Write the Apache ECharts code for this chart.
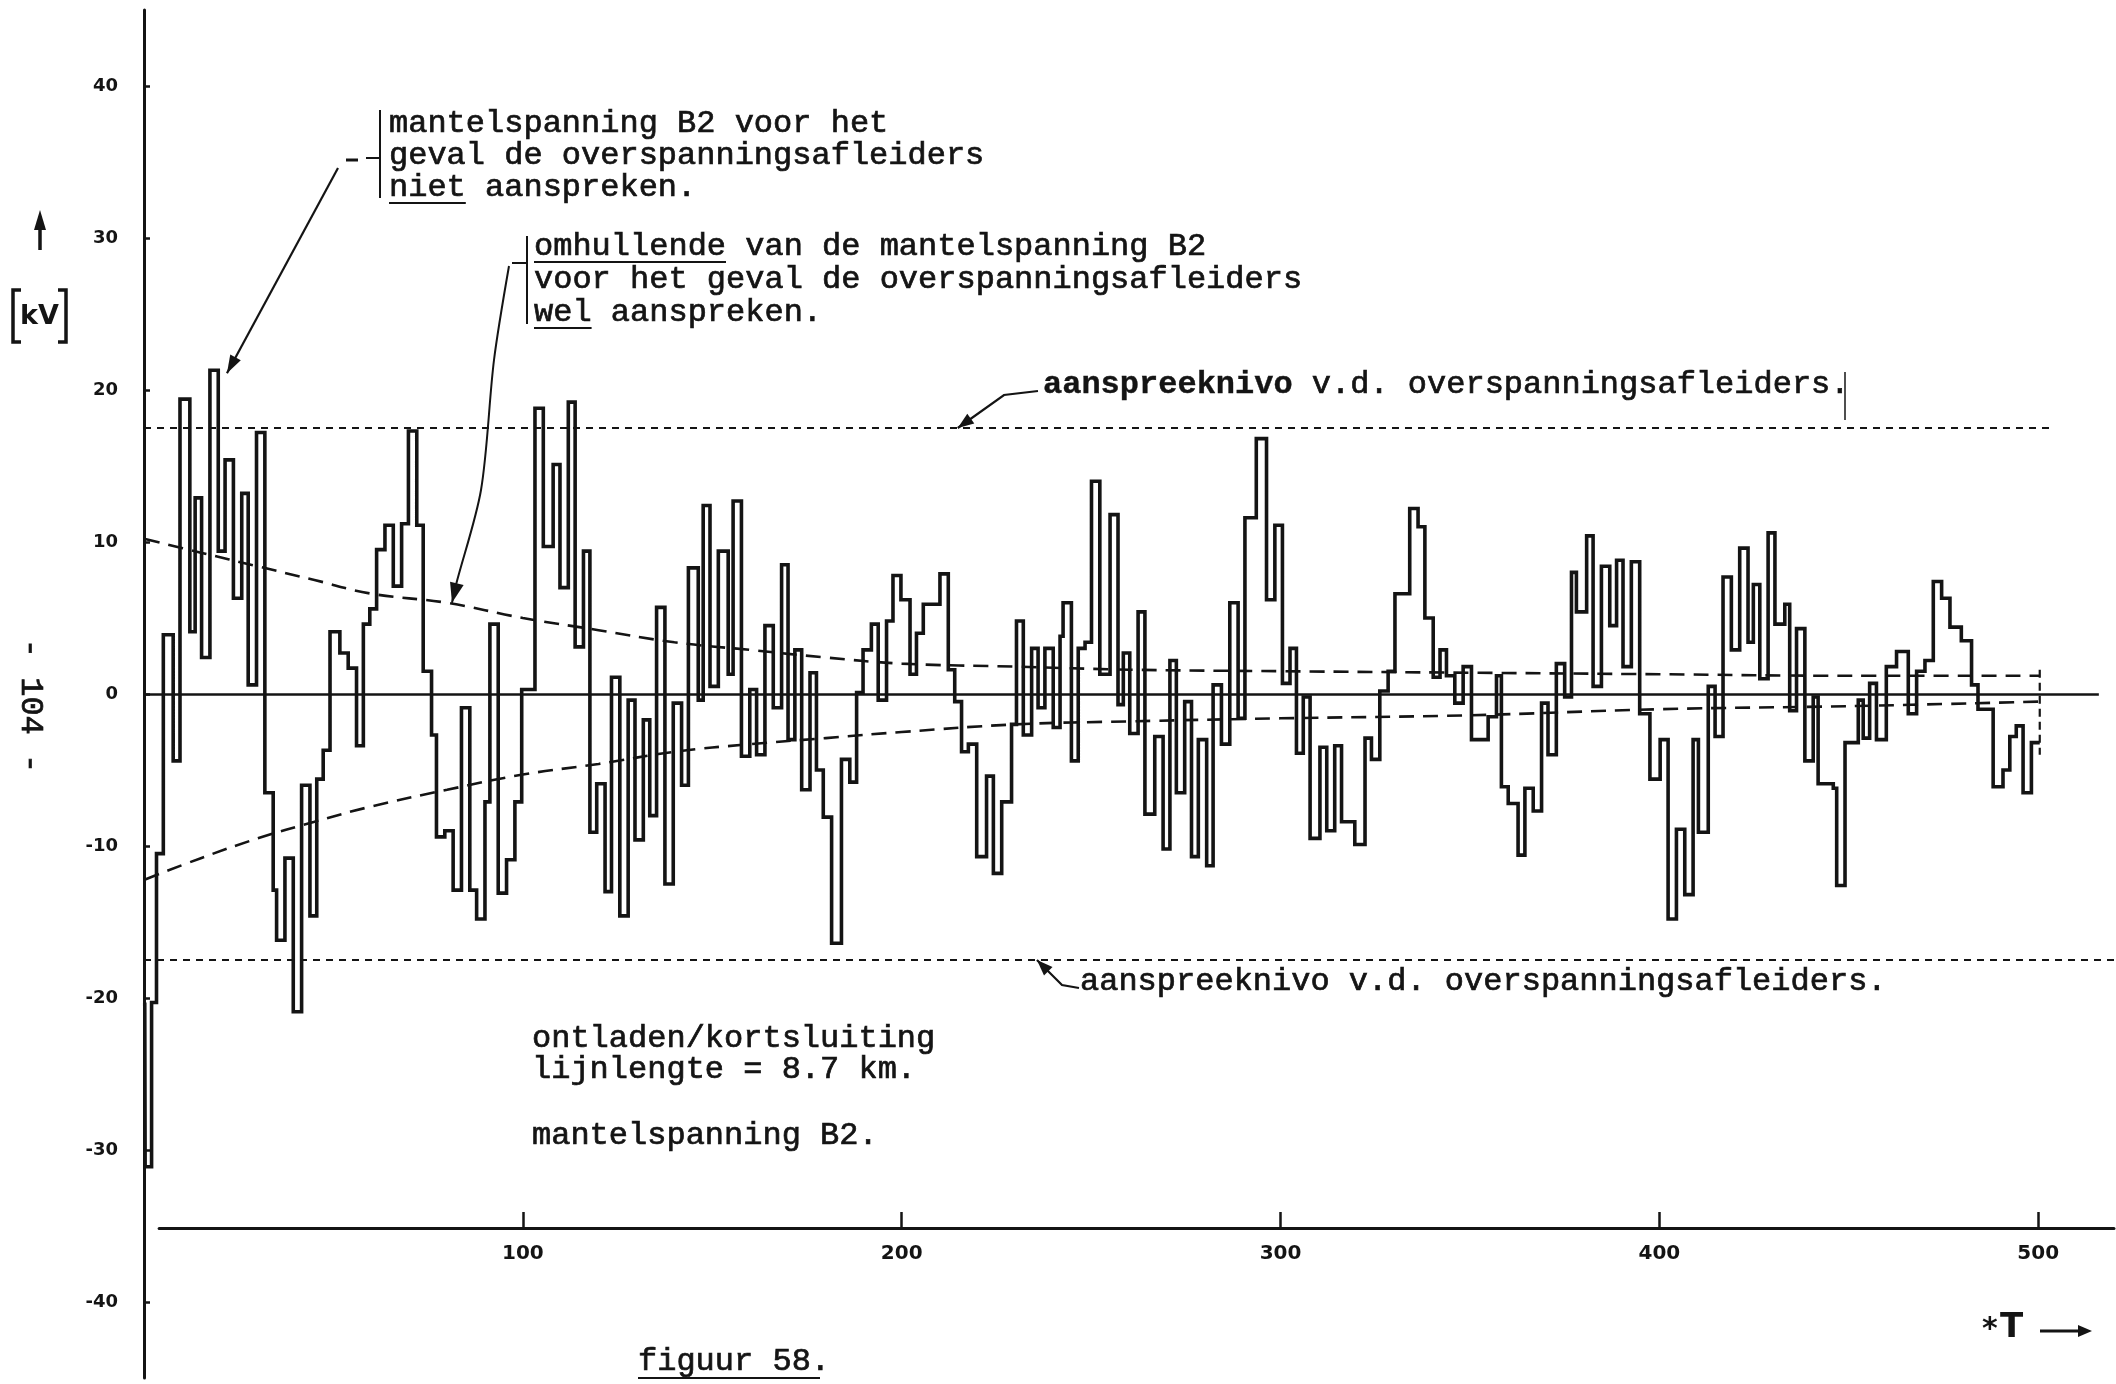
<!DOCTYPE html>
<html>
<head>
<meta charset="utf-8">
<script src="https://cdn.jsdelivr.net/npm/echarts@6/dist/echarts.min.js"></script>
<style>
  html, body { margin: 0; padding: 0; background: #ffffff; }
  #chart { width: 2116px; height: 1384px; }
</style>
</head>
<body>
<div id="chart"></div>
<script>
// Mantelspanning B2 na ontladen/kortsluiting, lijnlengte 8.7 km.
// Step waveform: value stepKV[i] holds from stepT[i] until stepT[i+1] (time in units of T).
const stepT = [
  0.2, 0.3, 2.0, 3.3, 5.1, 7.7, 9.5, 12.1, 13.5, 15.2, 17.4, 19.6, 21.4, 23.6, 25.8, 27.5, 29.7,
  31.9, 34.1, 35.0, 37.2, 39.4, 41.6, 43.8, 45.6, 47.3, 49.1, 51.7, 53.9, 56.1, 57.9, 59.6,
  61.4, 63.6, 65.8, 68.0, 69.8, 72.0, 73.7, 75.9, 77.2, 79.4, 81.6, 83.8, 86.0, 87.8, 90.0,
  91.3, 93.5, 95.7, 97.9, 99.7, 103.2, 105.4, 108.0, 109.8, 112.0, 113.8, 116.0, 117.7, 119.5,
  121.7, 123.4, 125.6, 127.8, 129.6, 131.8, 133.5, 135.3, 137.5, 139.7, 141.9, 143.7, 146.3,
  147.6, 149.4, 151.6, 154.2, 155.5, 157.7, 159.9, 161.7, 163.9, 166.1, 168.3, 170.0, 171.8,
  173.6, 175.8, 177.5, 179.3, 181.5, 184.1, 186.3, 188.1, 189.8, 192.0, 193.8, 196.0, 197.7,
  199.8, 202.2, 203.9, 205.7, 210.1, 212.3, 214.0, 215.8, 217.6, 219.8, 222.4, 224.2, 226.4,
  229.0, 230.3, 232.1, 234.3, 236.0, 237.8, 240.0, 241.8, 242.6, 244.8, 246.6, 248.4, 250.1,
  252.3, 255.0, 257.1, 258.5, 260.2, 262.4, 264.2, 266.8, 269.0, 270.8, 272.5, 274.7, 276.5,
  278.3, 280.5, 282.2, 284.4, 286.6, 288.8, 290.6, 293.6, 296.3, 298.5, 300.5, 302.5, 304.2,
  306.0, 307.8, 310.4, 312.2, 314.3, 316.1, 319.6, 322.3, 324.0, 326.2, 328.4, 330.2, 334.1,
  336.3, 338.1, 340.3, 342.1, 343.8, 346.0, 348.2, 350.4, 354.8, 357.0, 358.3, 360.1, 362.7,
  364.5, 366.7, 368.9, 370.6, 372.8, 375.0, 376.8, 378.1, 380.8, 382.5, 384.7, 386.9, 388.7,
  390.4, 392.6, 394.8, 397.5, 400.2, 402.3, 404.5, 406.7, 408.9, 410.3, 412.9, 414.7, 416.8,
  419.0, 421.2, 423.4, 424.8, 426.5, 428.7, 430.5, 433.1, 434.4, 436.2, 438.4, 440.6, 441.9,
  445.9, 446.8, 449.0, 452.5, 453.8, 455.5, 457.3, 459.9, 462.6, 465.7, 467.9, 470.1, 472.3,
  474.5, 476.7, 479.7, 482.4, 484.1, 488.1, 490.7, 492.5, 494.2, 496.0, 498.2, 500.4
];
const stepKV = [
  -20.3, -31.1, -20.3, -10.5, 3.9, -4.4, 19.4, 4.1, 12.9, 2.4, 21.3, 9.4, 15.4, 6.3, 13.2, 0.6, 17.2,
  -6.5, -12.9, -16.2, -10.8, -20.9, -6.0, -14.6, -5.6, -3.7, 4.1, 2.7, 1.7, -3.4, 4.6, 5.6,
  9.5, 11.1, 7.1, 11.2, 17.3, 11.1, 1.5, -2.7, -9.4, -9.0, -12.9, -0.9, -12.9, -14.8, -7.1,
  4.6, -13.1, -10.9, -7.1, 0.3, 18.8, 9.7, 15.1, 7.0, 19.2, 3.1, 9.4, -9.1, -5.9,
  -13.0, 1.1, -14.6, -0.4, -9.6, -1.7, -8.0, 5.7, -12.5, -0.6, -6.0, 8.3, -0.4,
  12.4, 0.5, 9.4, 1.3, 12.7, -4.1, 0.3, -4.0, 4.5, -0.9, 8.5, -3.0, 2.9,
  -6.3, 1.4, -5.0, -8.1, -16.4, -4.3, -5.8, 0.1, 2.9, 4.6, -0.4, 4.8, 7.8,
  6.2, 1.3, 4.0, 5.9, 7.9, 1.6, -0.5, -3.8, -3.3, -10.7, -5.4, -11.8, -7.1,
  -2.0, 4.8, -2.7, 3.0, -0.9, 3.0, -2.2, 3.8, 6.0, -4.4, 3.0, 3.4, 14.0,
  1.3, 11.8, -0.7, 2.7, -2.6, 5.4, -7.9, -2.8, -10.2, 2.2, -6.5, -0.5, -10.7,
  -3.0, -11.3, 0.6, -3.3, 6.0, -1.6, 11.6, 16.8, 6.2, 11.1, 0.7, 3.0, -3.9,
  -0.2, -9.5, -3.5, -9.0, -3.4, -8.4, -9.9, -2.9, -4.3, 0.2, 1.5, 6.6, 12.2,
  11.0, 5.0, 1.1, 2.9, 1.2, -0.6, 1.8, -3.0, -1.5, 1.2, -6.1, -7.2, -10.6,
  -6.2, -7.7, -0.6, -4.0, 2.0, -0.2, 8.0, 5.4, 10.4, 0.5, 8.4, 4.5, 8.8,
  1.8, 8.7, -1.3, -5.6, -3.0, -14.8, -8.9, -13.2, -3.0, -9.1, 0.5, -2.8, 7.7,
  2.9, 9.6, 3.4, 7.2, 1.0, 10.6, 4.6, 5.9, -1.1, 4.3, -4.4, -0.2, -5.9,
  -6.2, -12.6, -3.2, -0.4, -2.9, 0.7, -3.0, 1.8, 2.8, -1.3, 1.5, 2.2, 7.4,
  6.3, 4.4, 3.5, 0.6, -1.0, -6.1, -5.0, -2.8, -2.1, -6.5, -3.2, -3.2
];

// Envelope of the sheath voltage when the surge arresters do operate
const envT       = [0.3, 15, 30, 45, 60, 80, 100, 120, 140, 160, 180, 200, 230, 260, 300, 350, 400, 450, 500.4];
const envUpperKV = [10.2, 9.3, 8.4, 7.5, 6.6, 6.0, 5.0, 4.2, 3.4, 2.9, 2.4, 2.0, 1.8, 1.6, 1.5, 1.4, 1.3, 1.2, 1.2];
const envLowerKV = [-12.2, -10.8, -9.5, -8.4, -7.4, -6.3, -5.3, -4.6, -3.8, -3.3, -2.9, -2.5, -2.0, -1.8, -1.6, -1.4, -1.0, -0.8, -0.5];

// Operating level of the surge arresters
const thresholdKV = 17.5;
const upperLevelEndT = 504;
const lowerLevelEndT = 520;
const zeroLineEndT = 516;
const endMarkT = 500.4;
const endMarkKV = [1.6, -4.0];

const yTickValues = [-40, -30, -20, -10, 0, 10, 20, 30, 40];
const xTickValues = [100, 200, 300, 400, 500];

const INK = '#141414';
const MONO = '"Liberation Mono", "DejaVu Sans Mono", monospace';
const HAND = '"DejaVu Sans", sans-serif';

const chart = echarts.init(document.getElementById('chart'), null, { renderer: 'canvas' });

const waveData = stepT.map((t, i) => [t, stepKV[i]]);
const upperEnv = envT.map((t, i) => [t, envUpperKV[i]]);
const lowerEnv = envT.map((t, i) => [t, envLowerKV[i]]);

chart.setOption({
  backgroundColor: '#ffffff',
  animation: false,
  grid: [
    { left: 144, top: 10, width: 1970, height: 1368 },
    { left: 144 + 4 * 1970 / 520, top: 1200, width: 516 * 1970 / 520, height: 28 }
  ],
  xAxis: [
    { gridIndex: 0, type: 'value', min: 0, max: 520, show: false },
    {
      gridIndex: 1, type: 'value', min: 4, max: 520,
      axisLine: { show: true, lineStyle: { color: INK, width: 3 } },
      axisTick: { show: true, inside: true, length: 16, customValues: xTickValues, lineStyle: { color: INK, width: 2.5 } },
      axisLabel: { show: true, customValues: xTickValues, margin: 16, color: INK, fontFamily: HAND, fontWeight: 'bold', fontSize: 20 },
      splitLine: { show: false }
    }
  ],
  yAxis: [
    {
      gridIndex: 0, type: 'value', min: -45, max: 45,
      axisLine: { show: true, onZero: false, lineStyle: { color: INK, width: 3 } },
      axisTick: { show: true, inside: true, length: 6, customValues: yTickValues, lineStyle: { color: INK, width: 2.5 } },
      axisLabel: { show: true, customValues: yTickValues, margin: 26, color: INK, fontFamily: HAND, fontWeight: 'bold', fontSize: 18 },
      splitLine: { show: false }
    },
    { gridIndex: 1, type: 'value', min: 0, max: 1, show: false }
  ],
  series: [
    {
      name: 'nullijn', type: 'line', xAxisIndex: 0, yAxisIndex: 0,
      data: [], silent: true,
      markLine: {
        silent: true, symbol: ['none', 'arrow'], symbolSize: [0, 12], label: { show: false },
        lineStyle: { type: 'solid', color: INK, width: 2.5 },
        data: [[{ coord: [0, 0] }, { coord: [zeroLineEndT, 0] }]]
      }
    },
    {
      name: 'aanspreeknivo boven', type: 'line', silent: true, symbol: 'none',
      data: [[0, thresholdKV], [upperLevelEndT, thresholdKV]],
      lineStyle: { color: INK, width: 2.2, type: [7, 6] }
    },
    {
      name: 'aanspreeknivo onder', type: 'line', silent: true, symbol: 'none',
      data: [[0, -thresholdKV], [lowerLevelEndT, -thresholdKV]],
      lineStyle: { color: INK, width: 2.2, type: [7, 6] }
    },
    {
      name: 'omhullende boven', type: 'line', silent: true, symbol: 'none', smooth: 0.4,
      data: upperEnv,
      lineStyle: { color: INK, width: 2.6, type: [15, 9] }
    },
    {
      name: 'omhullende onder', type: 'line', silent: true, symbol: 'none', smooth: 0.4,
      data: lowerEnv,
      lineStyle: { color: INK, width: 2.6, type: [15, 9] }
    },
    {
      name: 'einde', type: 'line', silent: true, symbol: 'none',
      data: [[endMarkT, endMarkKV[0]], [endMarkT, endMarkKV[1]]],
      lineStyle: { color: INK, width: 2.2, type: [8, 5] }
    },
    {
      name: 'mantelspanning B2', type: 'line', silent: true, symbol: 'none', step: 'end',
      data: waveData,
      lineStyle: { color: INK, width: 3.6, join: 'miter' }
    }
  ]
});

// ---- annotations ----
const px = (t, v) => chart.convertToPixel({ gridIndex: 0 }, [t, v]);

function arrowHead(tip, from, len, halfW) {
  const dx = tip[0] - from[0], dy = tip[1] - from[1];
  const d = Math.hypot(dx, dy) || 1;
  const ux = dx / d, uy = dy / d;
  const bx = tip[0] - ux * len, by = tip[1] - uy * len;
  return {
    type: 'polygon', silent: true,
    shape: { points: [tip, [bx - uy * halfW, by + ux * halfW], [bx + uy * halfW, by - ux * halfW]] },
    style: { fill: INK }
  };
}
function polyline(points, width, smooth) {
  return { type: 'polyline', silent: true, shape: { points, smooth: smooth || 0 }, style: { stroke: INK, lineWidth: width || 2, fill: null } };
}
function line(x1, y1, x2, y2, width) {
  return { type: 'line', silent: true, shape: { x1, y1, x2, y2 }, style: { stroke: INK, lineWidth: width || 2 } };
}
const CH = 19.2; // typewriter pitch at 32px
function typed(text, x, y, opts) {
  opts = opts || {};
  return {
    type: 'text', silent: true, x, y, rotation: opts.rotation || 0,
    style: {
      text, fill: INK, font: (opts.bold ? 'bold ' : '') + '32px ' + MONO,
      stroke: INK, lineWidth: opts.bold ? 0.4 : 0.7,
      verticalAlign: 'middle', align: opts.align || 'left'
    }
  };
}
function underline(x, y, nChars) {
  return line(x, y + 15, x + nChars * CH, y + 15, 2);
}

const g = [];

// block 1: waveform without arrester action
const b1x = 389, b1y = [124, 156, 188];
g.push(typed('mantelspanning B2 voor het', b1x, b1y[0]));
g.push(typed('geval de overspanningsafleiders', b1x, b1y[1]));
g.push(typed('niet aanspreken.', b1x, b1y[2]));
g.push(underline(b1x, b1y[2], 4));
g.push(line(380, 110, 380, 198, 2));
g.push(line(366, 158, 380, 158, 2));
g.push(line(346, 160, 358, 160, 3));
const tipA = px(21.9, 21.1);
const fromA = [338, 168];
g.push(polyline([fromA, tipA], 2.2));
g.push(arrowHead(tipA, fromA, 18, 6));

// block 2: envelope with arrester action
const b2x = 534, b2y = [247, 280, 313];
g.push(typed('omhullende van de mantelspanning B2', b2x, b2y[0]));
g.push(typed('voor het geval de overspanningsafleiders', b2x, b2y[1]));
g.push(typed('wel aanspreken.', b2x, b2y[2]));
g.push(underline(b2x, b2y[0], 10));
g.push(underline(b2x, b2y[2], 3));
g.push(line(527, 236, 527, 324, 2));
g.push(line(512, 263, 527, 263, 2));
const tipB = px(81.3, 6.0);
const ptsB = [[509, 266], [494, 360], [481, 490], [tipB[0] + 4, tipB[1] - 18]];
g.push(polyline(ptsB.concat([tipB]), 2, 0.3));
g.push(arrowHead(tipB, [tipB[0] + 6, tipB[1] - 24], 20, 7));

// upper operating level label
g.push(typed('aanspreeknivo', 1043, 385, { bold: true }));
g.push(typed('v.d. overspanningsafleiders.', 1043 + 14 * CH, 385));
g.push(line(1845, 372, 1845, 420, 1.5));
const tipC = px(214.8, thresholdKV);
const ptsC = [[1038, 391], [1004, 395], tipC];
g.push(polyline(ptsC, 2.2));
g.push(arrowHead(tipC, ptsC[1], 16, 6));

// lower operating level label
g.push(typed('aanspreeknivo v.d. overspanningsafleiders.', 1080, 982));
const tipD = px(235.7, -thresholdKV);
const ptsD = [[1079, 988], [1062, 985], tipD];
g.push(polyline(ptsD, 2.2));
g.push(arrowHead(tipD, ptsD[1], 16, 6));

// case description
g.push(typed('ontladen/kortsluiting', 532, 1039));
g.push(typed('lijnlengte = 8.7 km.', 532, 1070));
g.push(typed('mantelspanning B2.', 532, 1136));

// figure caption
g.push(typed('figuur 58.', 638, 1362));
g.push(line(638, 1378, 820, 1378, 2));

// time axis name
g.push({ type: 'text', silent: true, x: 1982, y: 1330,
  style: { text: '*', fill: INK, font: 'bold 30px ' + HAND, verticalAlign: 'middle', align: 'left' } });
g.push({ type: 'text', silent: true, x: 2000, y: 1328,
  style: { text: 'T', fill: INK, font: 'bold 34px ' + HAND, verticalAlign: 'middle', align: 'left' } });
g.push(line(2040, 1331, 2080, 1331, 3));
g.push(arrowHead([2092, 1331], [2040, 1331], 14, 6));

// vertical axis unit
g.push(line(40, 250, 40, 226, 3.5));
g.push(arrowHead([40, 210], [40, 250], 20, 6));
g.push(polyline([[21, 290], [13, 290], [13, 342], [21, 342]], 3.5));
g.push(polyline([[58, 290], [66, 290], [66, 342], [58, 342]], 3.5));
g.push({ type: 'text', silent: true, x: 39.5, y: 317,
  style: { text: 'kV', fill: INK, font: 'bold 27px ' + HAND, verticalAlign: 'middle', align: 'center' } });

// page number
g.push(typed('- 104 -', 30, 706, { rotation: -Math.PI / 2, align: 'center' }));

chart.setOption({ graphic: { elements: g } });
</script>
</body>
</html>
